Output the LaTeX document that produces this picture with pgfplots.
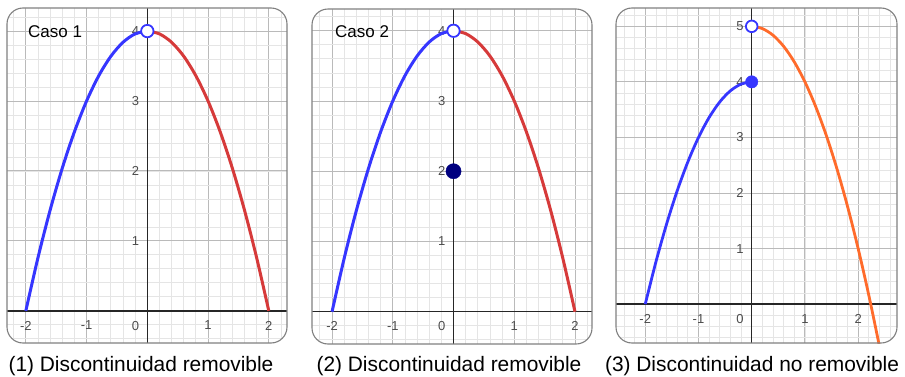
\documentclass[border=0pt]{standalone}
\usepackage{fontspec}
\setmainfont{Liberation Sans}
\usepackage{pgfplots}
\pgfplotsset{compat=1.18}
\definecolor{cblue}{HTML}{3636FF}
\definecolor{cred}{HTML}{D63A3A}
\definecolor{corange}{HTML}{FF6B2B}
\definecolor{cnavy}{HTML}{00007F}
\pgfplotsset{panel/.style={
  scale only axis, anchor=south west,
  axis lines=middle, axis line style={-, draw=black!85, line width=1.4pt},
  grid=both, major grid style={draw=black!27, line width=1pt},
  minor grid style={draw=black!10, line width=0.8pt},
  major tick length=0pt, minor tick length=0pt,
  xtick={-2,-1,1,2}, xticklabels={-2,-1,1,2},
  minor xtick={-2.8,-2.6,...,2.81},
  minor ytick={-0.8,-0.6,...,5.41},
  tick label style={font=\fontsize{13}{13}\selectfont, text=black!70, inner sep=0pt},
  xticklabel style={anchor=north, yshift=-10pt},
  yticklabel style={anchor=east, xshift=-8pt},
  /pgf/number format/assume math mode=true,
  clip=true,
}}
\begin{document}
\begin{tikzpicture}[x=1pt,y=1pt]
\path[use as bounding box] (0,0) rectangle (905,376);
% ---------- panel 1
\begin{axis}[panel, name=p1, at={(7pt,33pt)}, width=280pt, height=335pt,
  xmin=-2.31, xmax=2.30, ymin=-0.46, ymax=4.33,
  ytick={1,2,3,4}, yticklabels={1,2,3,4}]
\addplot[cblue, line width=3pt, smooth] coordinates {
(-2,0) (-1.8,0.76) (-1.6,1.44) (-1.4,2.04) (-1.2,2.56) (-1,3) (-0.8,3.36) (-0.6,3.64) (-0.4,3.84) (-0.2,3.96) (0,4)};
\addplot[cred, line width=3pt, smooth] coordinates {
(0,4) (0.2,3.96) (0.4,3.84) (0.6,3.64) (0.8,3.36) (1,3) (1.2,2.56) (1.4,2.04) (1.6,1.44) (1.8,0.76) (2,0)};
\addplot[only marks, mark=*, mark size=6.2pt, mark options={draw=cblue, fill=white, line width=1.8pt}] coordinates {(0,4)};
\node[anchor=north east, inner sep=0pt, xshift=-8pt, yshift=-10pt, font=\fontsize{13}{13}\selectfont, text=black!70] at (axis cs:0,0) {0};
\end{axis}
\fill[white, even odd rule] (p1.south west) rectangle (p1.north east) [rounded corners=16pt] (p1.south west) rectangle (p1.north east);
\draw[black!50, line width=1.1pt, rounded corners=16pt] (p1.south west) rectangle (p1.north east);
\node[anchor=base west, inner sep=0pt, font=\fontsize{17}{17}\selectfont] at (28,338) {Caso 1};
\node[anchor=base, inner sep=0pt, font=\fontsize{20.9}{21}\selectfont] at (141,5) {(1) Discontinuidad removible};
% ---------- panel 2
\begin{axis}[panel, name=p2, at={(312pt,32pt)}, width=280pt, height=335pt,
  xmin=-2.33, xmax=2.28, ymin=-0.46, ymax=4.31,
  ytick={1,2,3,4}, yticklabels={1,2,3,4}]
\addplot[cblue, line width=3pt, smooth] coordinates {
(-2,0) (-1.8,0.76) (-1.6,1.44) (-1.4,2.04) (-1.2,2.56) (-1,3) (-0.8,3.36) (-0.6,3.64) (-0.4,3.84) (-0.2,3.96) (0,4)};
\addplot[cred, line width=3pt, smooth] coordinates {
(0,4) (0.2,3.96) (0.4,3.84) (0.6,3.64) (0.8,3.36) (1,3) (1.2,2.56) (1.4,2.04) (1.6,1.44) (1.8,0.76) (2,0)};
\addplot[only marks, mark=*, mark size=6.2pt, mark options={draw=cblue, fill=white, line width=1.8pt}] coordinates {(0,4)};
\addplot[only marks, mark=*, mark size=7.6pt, mark options={draw=cnavy, fill=cnavy}] coordinates {(0,2)};
\node[anchor=north east, inner sep=0pt, xshift=-8pt, yshift=-10pt, font=\fontsize{13}{13}\selectfont, text=black!70] at (axis cs:0,0) {0};
\end{axis}
\fill[white, even odd rule] (p2.south west) rectangle (p2.north east) [rounded corners=16pt] (p2.south west) rectangle (p2.north east);
\draw[black!50, line width=1.1pt, rounded corners=16pt] (p2.south west) rectangle (p2.north east);
\node[anchor=base west, inner sep=0pt, font=\fontsize{17}{17}\selectfont] at (335,338) {Caso 2};
\node[anchor=base, inner sep=0pt, font=\fontsize{20.9}{21}\selectfont] at (449,5) {(2) Discontinuidad removible};
% ---------- panel 3
\begin{axis}[panel, name=p3, at={(616pt,33pt)}, width=281pt, height=335pt,
  xmin=-2.55, xmax=2.73, ymin=-0.70, ymax=5.33,
  ytick={1,2,3,4,5}, yticklabels={1,2,3,4,5}]
\addplot[cblue, line width=2.8pt, smooth] coordinates {
(-2,0) (-1.8,0.76) (-1.6,1.44) (-1.4,2.04) (-1.2,2.56) (-1,3) (-0.8,3.36) (-0.6,3.64) (-0.4,3.84) (-0.2,3.96) (0,4)};
\addplot[corange, line width=2.8pt, smooth] coordinates {
(0,5) (0.2,4.96) (0.4,4.84) (0.6,4.64) (0.8,4.36) (1,4) (1.2,3.56) (1.4,3.04) (1.6,2.44) (1.8,1.76) (2,1) (2.2,0.16) (2.4,-0.76) (2.5,-1.25)};
\addplot[only marks, mark=*, mark size=6.2pt, mark options={draw=cblue, fill=cblue}] coordinates {(0,4)};
\addplot[only marks, mark=*, mark size=5.8pt, mark options={draw=cblue, fill=white, line width=1.8pt}] coordinates {(0,5)};
\node[anchor=north east, inner sep=0pt, xshift=-8pt, yshift=-10pt, font=\fontsize{13}{13}\selectfont, text=black!70] at (axis cs:0,0) {0};
\end{axis}
\fill[white, even odd rule] (p3.south west) rectangle (p3.north east) [rounded corners=16pt] (p3.south west) rectangle (p3.north east);
\draw[black!50, line width=1.1pt, rounded corners=16pt] (p3.south west) rectangle (p3.north east);
\node[anchor=base, inner sep=0pt, font=\fontsize{20.9}{21}\selectfont] at (752,5) {(3) Discontinuidad no removible};
\end{tikzpicture}
\end{document}
